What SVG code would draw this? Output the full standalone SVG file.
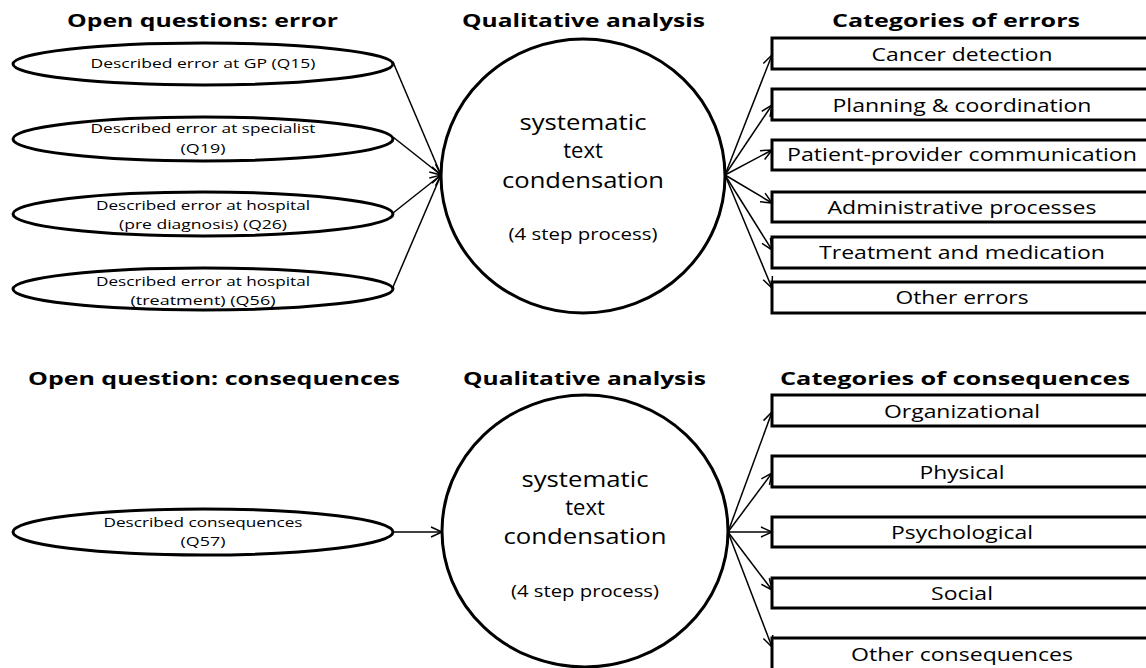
<svg xmlns="http://www.w3.org/2000/svg" width="1146" height="668" viewBox="0 0 1146 668">
<style>
  .bg{fill:#fff}
  .shape{fill:#fff;stroke:#000;stroke-width:3}
  .conn{stroke:#000;stroke-width:1.5;fill:none;marker-end:url(#arr)}
  text{font-family:"Open Sans","Liberation Sans",sans-serif;fill:#000}
  .h{font-weight:bold;font-size:18px}
  .et{font-size:13px;text-anchor:middle}
  .bt{font-size:19px;text-anchor:middle}
  .ct{font-size:22px;text-anchor:middle}
  .cs{font-size:16px;text-anchor:middle}
</style>
<defs>
  <marker id="arr" markerUnits="userSpaceOnUse" markerWidth="14" markerHeight="12" refX="12" refY="5" orient="auto" overflow="visible">
    <path d="M1,0 L12,5 L1,10" fill="none" stroke="#000" stroke-width="1.5"/>
  </marker>
</defs>
<rect class="bg" x="0" y="0" width="1146" height="668"/>

<g id="headings">
  <text class="h" x="67" y="27" textLength="271" lengthAdjust="spacingAndGlyphs">Open questions: error</text>
  <text class="h" x="462" y="27" textLength="243" lengthAdjust="spacingAndGlyphs">Qualitative analysis</text>
  <text class="h" x="832" y="27" textLength="248" lengthAdjust="spacingAndGlyphs">Categories of errors</text>
  <text class="h" x="28" y="385" textLength="372" lengthAdjust="spacingAndGlyphs">Open question: consequences</text>
  <text class="h" x="463" y="385" textLength="243" lengthAdjust="spacingAndGlyphs">Qualitative analysis</text>
  <text class="h" x="780" y="385" textLength="350" lengthAdjust="spacingAndGlyphs">Categories of consequences</text>
</g>

<g id="connectors">
  <line class="conn" x1="393" y1="62" x2="441" y2="175"/>
  <line class="conn" x1="393" y1="137" x2="441" y2="175"/>
  <line class="conn" x1="393" y1="213" x2="441" y2="175"/>
  <line class="conn" x1="393" y1="287" x2="441" y2="175"/>
  <line class="conn" x1="725" y1="175" x2="772" y2="55"/>
  <line class="conn" x1="725" y1="175" x2="772" y2="105"/>
  <line class="conn" x1="725" y1="175" x2="772" y2="150"/>
  <line class="conn" x1="725" y1="175" x2="772" y2="203"/>
  <line class="conn" x1="725" y1="175" x2="772" y2="250"/>
  <line class="conn" x1="725" y1="175" x2="772" y2="288"/>
  <line class="conn" x1="393" y1="532" x2="442" y2="532"/>
  <line class="conn" x1="728" y1="532" x2="772" y2="412"/>
  <line class="conn" x1="728" y1="532" x2="772" y2="473"/>
  <line class="conn" x1="728" y1="532" x2="772" y2="532"/>
  <line class="conn" x1="728" y1="532" x2="772" y2="590"/>
  <line class="conn" x1="728" y1="532" x2="772" y2="647"/>
</g>

<g id="q15">
  <ellipse class="shape" cx="203" cy="64" rx="190" ry="21"/>
  <text class="et" x="203" y="68" textLength="225" lengthAdjust="spacingAndGlyphs">Described error at GP (Q15)</text>
</g>
<g id="q19">
  <ellipse class="shape" cx="203" cy="139" rx="190" ry="22"/>
  <text class="et" x="203" y="133" textLength="225" lengthAdjust="spacingAndGlyphs">Described error at specialist</text>
  <text class="et" x="203" y="153" textLength="45" lengthAdjust="spacingAndGlyphs">(Q19)</text>
</g>
<g id="q26">
  <ellipse class="shape" cx="203" cy="214" rx="190" ry="22"/>
  <text class="et" x="203" y="210" textLength="214" lengthAdjust="spacingAndGlyphs">Described error at hospital</text>
  <text class="et" x="203" y="229" textLength="168" lengthAdjust="spacingAndGlyphs">(pre diagnosis) (Q26)</text>
</g>
<g id="q56">
  <ellipse class="shape" cx="203" cy="289" rx="190" ry="21"/>
  <text class="et" x="203" y="286" textLength="214" lengthAdjust="spacingAndGlyphs">Described error at hospital</text>
  <text class="et" x="203" y="305" textLength="145" lengthAdjust="spacingAndGlyphs">(treatment) (Q56)</text>
</g>

<g id="analysis-errors">
  <ellipse class="shape" cx="583" cy="176" rx="142" ry="137"/>
  <text class="ct" x="583" y="130" textLength="127" lengthAdjust="spacingAndGlyphs">systematic</text>
  <text class="ct" x="583" y="158">text</text>
  <text class="ct" x="583" y="188" textLength="162" lengthAdjust="spacingAndGlyphs">condensation</text>
  <text class="cs" x="583" y="240" textLength="149" lengthAdjust="spacingAndGlyphs">(4 step process)</text>
</g>

<g id="cat-cancer"><rect class="shape" x="772" y="38" width="390" height="31"/><text class="bt" x="962" y="61" textLength="181" lengthAdjust="spacingAndGlyphs">Cancer detection</text></g>
<g id="cat-planning"><rect class="shape" x="772" y="89" width="390" height="31"/><text class="bt" x="962" y="112" textLength="259" lengthAdjust="spacingAndGlyphs">Planning &amp; coordination</text></g>
<g id="cat-communication"><rect class="shape" x="772" y="140" width="390" height="30"/><text class="bt" x="962" y="161" textLength="350" lengthAdjust="spacingAndGlyphs">Patient-provider communication</text></g>
<g id="cat-admin"><rect class="shape" x="772" y="192" width="390" height="30"/><text class="bt" x="962" y="214" textLength="269" lengthAdjust="spacingAndGlyphs">Administrative processes</text></g>
<g id="cat-treatment"><rect class="shape" x="772" y="237" width="390" height="31"/><text class="bt" x="962" y="259" textLength="286" lengthAdjust="spacingAndGlyphs">Treatment and medication</text></g>
<g id="cat-other-errors"><rect class="shape" x="772" y="282" width="390" height="31"/><text class="bt" x="962" y="304" textLength="133" lengthAdjust="spacingAndGlyphs">Other errors</text></g>

<g id="q57">
  <ellipse class="shape" cx="203" cy="532" rx="190" ry="23"/>
  <text class="et" x="203" y="527" textLength="199" lengthAdjust="spacingAndGlyphs">Described consequences</text>
  <text class="et" x="203" y="546" textLength="45" lengthAdjust="spacingAndGlyphs">(Q57)</text>
</g>

<g id="analysis-consequences">
  <ellipse class="shape" cx="585" cy="531" rx="143" ry="136"/>
  <text class="ct" x="585" y="487" textLength="127" lengthAdjust="spacingAndGlyphs">systematic</text>
  <text class="ct" x="585" y="515">text</text>
  <text class="ct" x="585" y="544" textLength="163" lengthAdjust="spacingAndGlyphs">condensation</text>
  <text class="cs" x="585" y="597" textLength="148" lengthAdjust="spacingAndGlyphs">(4 step process)</text>
</g>

<g id="con-organizational"><rect class="shape" x="772" y="395" width="390" height="31"/><text class="bt" x="962" y="418" textLength="156" lengthAdjust="spacingAndGlyphs">Organizational</text></g>
<g id="con-physical"><rect class="shape" x="772" y="456" width="390" height="31"/><text class="bt" x="962" y="479" textLength="85" lengthAdjust="spacingAndGlyphs">Physical</text></g>
<g id="con-psychological"><rect class="shape" x="772" y="517" width="390" height="30"/><text class="bt" x="962" y="539" textLength="142" lengthAdjust="spacingAndGlyphs">Psychological</text></g>
<g id="con-social"><rect class="shape" x="772" y="578" width="390" height="30"/><text class="bt" x="962" y="600" textLength="62" lengthAdjust="spacingAndGlyphs">Social</text></g>
<g id="con-other"><rect class="shape" x="772" y="638" width="390" height="32"/><text class="bt" x="962" y="661" textLength="222" lengthAdjust="spacingAndGlyphs">Other consequences</text></g>
</svg>
